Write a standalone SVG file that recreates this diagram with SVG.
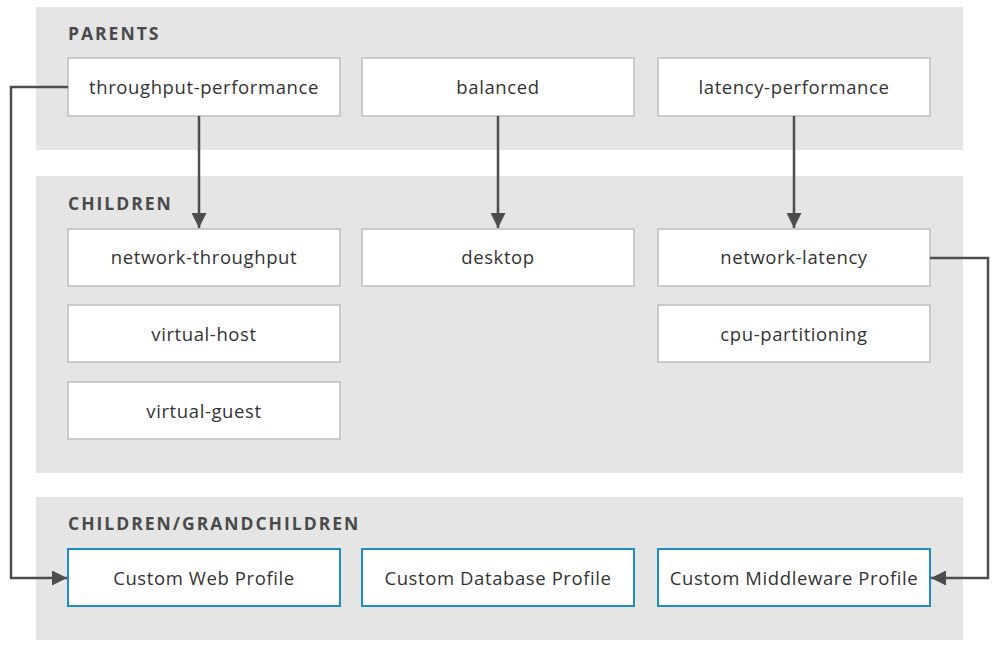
<svg xmlns="http://www.w3.org/2000/svg" width="999" height="653" viewBox="0 0 999 653">
<defs>
<style>
.panel{fill:#e5e5e5}
.box{fill:#fff;stroke:#bdbdbd;stroke-width:1.5}
.cbox{fill:#fff;stroke:#1f8dc6;stroke-width:2}
.t{font-family:"Open Sans","Liberation Sans",sans-serif;font-size:18.5px;fill:#333;text-anchor:middle;letter-spacing:0.6px}
.h{font-family:"Open Sans","Liberation Sans",sans-serif;font-size:17.5px;font-weight:bold;fill:#4a4a4a;letter-spacing:2px}
.c{fill:none;stroke:#4d4d4d;stroke-width:2.5}
</style>
<marker id="ah" viewBox="0 0 10 10" refX="10" refY="5" markerWidth="6" markerHeight="6" markerUnits="strokeWidth" orient="auto">
<path d="M0,0 L10,5 L0,10 z" fill="#4d4d4d"/>
</marker>
</defs>
<rect width="999" height="653" fill="#fff"/>
<g id="panel-parents"><rect class="panel" x="36" y="7" width="927" height="143"/><text class="h" x="68" y="40">PARENTS</text></g>
<g id="panel-children"><rect class="panel" x="36" y="176" width="927" height="297"/><text class="h" x="68" y="210">CHILDREN</text></g>
<g id="panel-grand"><rect class="panel" x="36" y="497" width="927" height="143"/><text class="h" x="68" y="530">CHILDREN/GRANDCHILDREN</text></g>

<g id="throughput-performance"><rect class="box" x="68" y="58" width="272" height="58"/><text class="t" x="204" y="94">throughput-performance</text></g>
<g id="balanced"><rect class="box" x="362" y="58" width="272" height="58"/><text class="t" x="498" y="94">balanced</text></g>
<g id="latency-performance"><rect class="box" x="658" y="58" width="272" height="58"/><text class="t" x="794" y="94">latency-performance</text></g>

<g id="network-throughput"><rect class="box" x="68" y="229" width="272" height="57"/><text class="t" x="204" y="264">network-throughput</text></g>
<g id="desktop"><rect class="box" x="362" y="229" width="272" height="57"/><text class="t" x="498" y="264">desktop</text></g>
<g id="network-latency"><rect class="box" x="658" y="229" width="272" height="57"/><text class="t" x="794" y="264">network-latency</text></g>
<g id="virtual-host"><rect class="box" x="68" y="305" width="272" height="57"/><text class="t" x="204" y="341">virtual-host</text></g>
<g id="cpu-partitioning"><rect class="box" x="658" y="305" width="272" height="57"/><text class="t" x="794" y="341">cpu-partitioning</text></g>
<g id="virtual-guest"><rect class="box" x="68" y="382" width="272" height="57"/><text class="t" x="204" y="418">virtual-guest</text></g>

<g id="custom-web"><rect class="cbox" x="68" y="549" width="272" height="57"/><text class="t" x="204" y="585">Custom Web Profile</text></g>
<g id="custom-db"><rect class="cbox" x="362" y="549" width="272" height="57"/><text class="t" x="498" y="585">Custom Database Profile</text></g>
<g id="custom-mw"><rect class="cbox" x="658" y="549" width="272" height="57"/><text class="t" x="794" y="585">Custom Middleware Profile</text></g>

<g id="connectors">
<path class="c" d="M199,116 V228" marker-end="url(#ah)"/>
<path class="c" d="M498,116 V228" marker-end="url(#ah)"/>
<path class="c" d="M794,116 V228" marker-end="url(#ah)"/>
<path class="c" d="M68,87 H11 V578 H67" marker-end="url(#ah)"/>
<path class="c" d="M930,258 H988 V578 H931" marker-end="url(#ah)"/>
</g>
</svg>
